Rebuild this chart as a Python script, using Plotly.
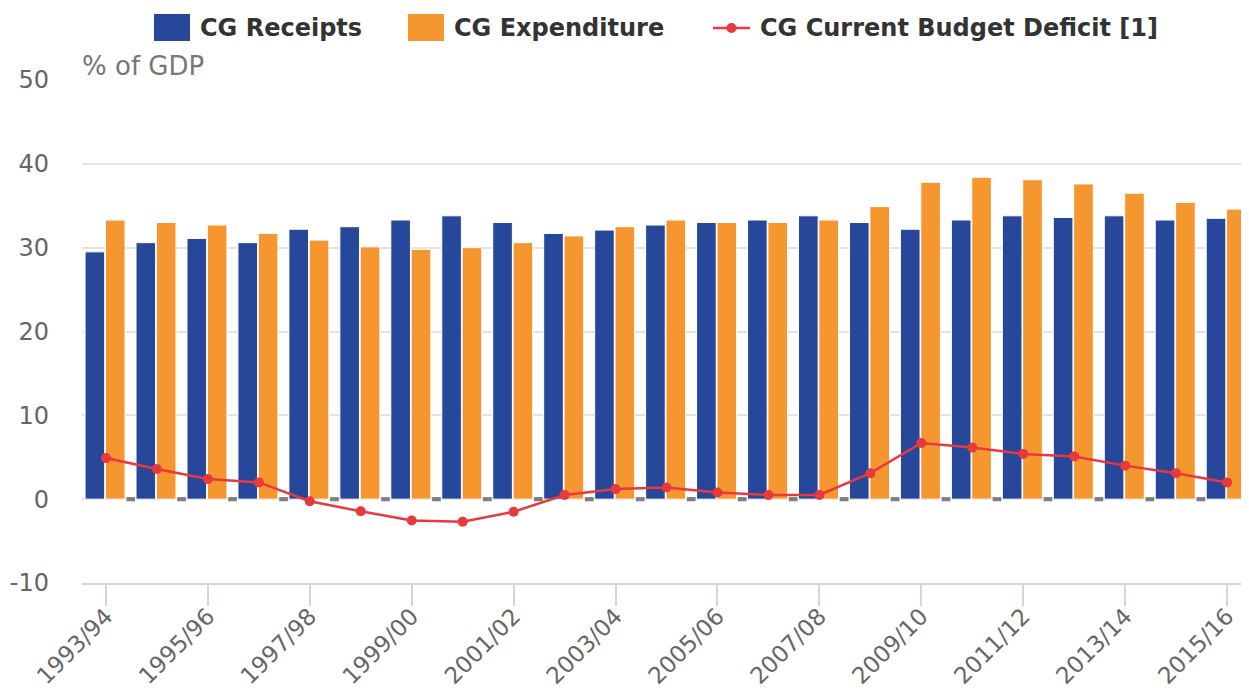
import plotly.graph_objects as go

categories = ["1993/94", "1994/95", "1995/96", "1996/97", "1997/98", "1998/99",
              "1999/00", "2000/01", "2001/02", "2002/03", "2003/04", "2004/05",
              "2005/06", "2006/07", "2007/08", "2008/09", "2009/10", "2010/11",
              "2011/12", "2012/13", "2013/14", "2014/15", "2015/16"]

receipts = [29.5, 30.6, 31.1, 30.6, 32.2, 32.5, 33.3, 33.8, 33.0, 31.7, 32.1, 32.7,
            33.0, 33.3, 33.8, 33.0, 32.2, 33.3, 33.8, 33.6, 33.8, 33.3, 33.5]

expenditure = [33.3, 33.0, 32.7, 31.7, 30.9, 30.1, 29.8, 30.0, 30.6, 31.4, 32.5, 33.3,
               33.0, 33.0, 33.3, 34.9, 37.8, 38.4, 38.1, 37.6, 36.5, 35.4, 34.6]

deficit = [4.9, 3.6, 2.4, 2.0, -0.25, -1.45, -2.55, -2.7, -1.5, 0.5, 1.2, 1.4,
           0.8, 0.5, 0.5, 3.1, 6.7, 6.15, 5.4, 5.1, 4.0, 3.1, 2.0]

grey_marks = [0.5] * len(categories)

y_tickvals = [-10, 0, 10, 20, 30, 40, 50]
y_ticktext = ["-10", "0", "10", "20", "30", "40", "50"]

legend_names = ["CG Receipts", "CG Expenditure", "CG Current Budget Deficit [1]"]

BLUE = "#27479a"
ORANGE = "#f5962f"
RED = "#e8393e"
GREY = "#7f7f7f"
FONT = "DejaVu Sans"

# page body has an 8px default margin; compensate so the plot lands where intended
OFF = 8
W, H = 1249, 691
ML, MR, MT, MB = 82 - OFF, OFF, 80 - OFF, 108 + OFF
PW, PH = W - ML - MR, H - MT - MB


def px(x):  # page pixel -> paper x
    return (x - OFF - ML) / PW


def py(y):  # page pixel -> paper y
    return 1 - (y - OFF - MT) / PH


fig = go.Figure()

fig.add_trace(go.Bar(
    x=categories, y=receipts, name=legend_names[0],
    marker=dict(color=BLUE, line=dict(color="white", width=1)),
    offset=-0.41, width=0.385, showlegend=False,
))
fig.add_trace(go.Bar(
    x=categories, y=expenditure, name=legend_names[1],
    marker=dict(color=ORANGE, line=dict(color="white", width=1)),
    offset=-0.01, width=0.385, showlegend=False,
))
fig.add_trace(go.Bar(
    x=categories, y=grey_marks, base=-0.25, name="",
    marker=dict(color=GREY, line=dict(width=0)),
    offset=0.40, width=0.17, showlegend=False, hoverinfo="skip",
))
fig.add_trace(go.Scatter(
    x=categories, y=deficit, name=legend_names[2],
    mode="lines+markers",
    line=dict(color=RED, width=2.5),
    marker=dict(color=RED, size=10),
    showlegend=False,
))

# Legend drawn at the top (large square swatches as in the reference)
shapes = [
    dict(type="rect", xref="paper", yref="paper", x0=px(154), x1=px(190),
         y0=py(41), y1=py(14), fillcolor=BLUE, line=dict(width=0)),
    dict(type="rect", xref="paper", yref="paper", x0=px(408), x1=px(444),
         y0=py(41), y1=py(14), fillcolor=ORANGE, line=dict(width=0)),
    dict(type="line", xref="paper", yref="paper", x0=px(713), x1=px(750),
         y0=py(28), y1=py(28), line=dict(color=RED, width=2.5)),
    dict(type="circle", xref="paper", yref="paper", x0=px(726.5), x1=px(736.5),
         y0=py(33), y1=py(23), fillcolor=RED, line=dict(width=0)),
]

legend_font = dict(family=FONT, size=24, color="#333333", weight="bold")
annotations = [
    dict(text=legend_names[0], xref="paper", yref="paper", x=px(198), y=py(28),
         xanchor="left", yanchor="middle", showarrow=False, font=legend_font),
    dict(text=legend_names[1], xref="paper", yref="paper", x=px(452), y=py(28),
         xanchor="left", yanchor="middle", showarrow=False, font=legend_font),
    dict(text=legend_names[2], xref="paper", yref="paper", x=px(758), y=py(28),
         xanchor="left", yanchor="middle", showarrow=False, font=legend_font),
    dict(text="% of GDP", xref="paper", yref="paper", x=0, y=1,
         xanchor="left", yanchor="bottom", showarrow=False, yshift=-3, xshift=-2,
         font=dict(family=FONT, size=26, color="#777777")),
]

fig.update_layout(
    width=W, height=H,
    paper_bgcolor="white", plot_bgcolor="white",
    barmode="overlay",
    showlegend=False,
    margin=dict(l=ML, r=MR, t=MT, b=MB),
    font=dict(family=FONT, color="#666666", size=24),
    shapes=shapes,
    annotations=annotations,
    xaxis=dict(
        type="category",
        range=[-0.47, 22.43],
        tickmode="linear", tick0=0, dtick=2,
        tickangle=-45,
        ticks="outside", ticklen=21, tickwidth=1.5, tickcolor="#ccd6eb",
        showline=True, linecolor="#ccd6eb", linewidth=1.5,
        showgrid=False, automargin=False,
        ticklabelstandoff=-12,
        tickfont=dict(family=FONT, size=23, color="#666666"),
    ),
    yaxis=dict(
        range=[-10, 50], tickmode="array",
        tickvals=y_tickvals, ticktext=y_ticktext,
        showgrid=True, gridcolor="#e3e3e3", gridwidth=1.5,
        zeroline=True, zerolinecolor="#e3e3e3", zerolinewidth=1.5,
        showline=False, ticks="", automargin=False,
        ticklabelstandoff=32,
        tickfont=dict(family=FONT, size=24, color="#666666"),
    ),
)

fig.write_html("out.html")
